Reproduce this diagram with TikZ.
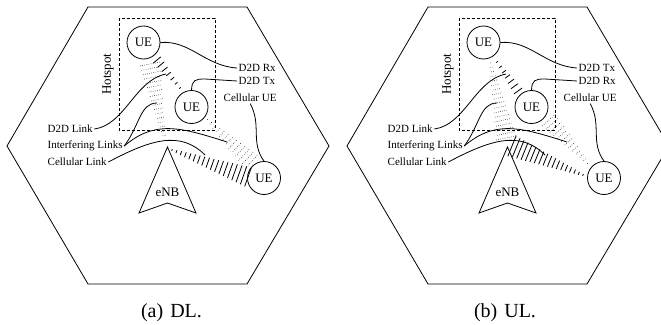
\documentclass[tikz,border=0pt]{standalone}
\usepackage{fontspec}
\setmainfont{Liberation Serif}
\usetikzlibrary{calc}

% beam: from #1 (narrow end) to #2 (wide end), #3 steps, half length #4 -> #5, style #6
\newcommand\drawbeam[6]{%
  \coordinate (bmfar) at ($(#1)!2!(#2)$);
  \foreach \k in {0,...,#3}{%
    \pgfmathsetmacro\bmT{\k/#3}%
    \pgfmathsetmacro\bmH{#4+(#5-#4)*\k/#3}%
    \coordinate (bmp) at ($(#1)!\bmT!(#2)$);
    \draw[#6] ($(bmp)!\bmH pt!90:(bmfar)$) -- ($(bmp)!\bmH pt!-90:(bmfar)$);
  }}

\newcommand\drawpanel[3]{%
  \draw[hexline] (88,7) -- (247,7) -- (329,146) -- (247,284) -- (88,284) -- (7,146) -- cycle;
  \draw[hotline] (119,18) rectangle (215,130);
  \node[hotlbl] (#1hot) at (108,74) {Hotspot};
  \node[uenode] (#1ue1) at (143.5,42.5) {UE};
  \node[uenode] (#1ue2) at (191.5,107) {UE};
  \node[uenode] (#1ue3) at (264,178) {UE};
  \coordinate (#1apex) at (167.5,147);
  \coordinate (#1br) at (196,213);
  \coordinate (#1notch) at (167.5,203);
  \coordinate (#1bl) at (139,213);
  \draw[hexline] (#1apex) -- (#1br) -- (#1notch) -- (#1bl) -- cycle;
  \node[enbl] (#1enb) at (167.5,192) {eNB};
  \node[lbl] (#1rx) at (237,68) {#2};
  \node[lbl] (#1tx) at (237,81) {#3};
  \node[lbl] (#1cu) at (222,98) {Cellular UE};
  \node[lbl] (#1dl) at (46,129) {D2D Link};
  \node[lbl] (#1il) at (46,146) {Interfering Links};
  \node[lbl] (#1cl) at (46,162) {Cellular Link};
  \coordinate (#1p1) at (166,74);
  \coordinate (#1p2) at (157,103);
  \coordinate (#1p3) at (227,142);
  \coordinate (#1p4) at (205,155);
  \draw[ldr] (#1ue1.east) .. controls (190,40) and (205,66) .. (#1rx.west);
  \draw[ldr] (#1ue2.north) .. controls (192,80) and (195,79) .. (205,79) -- (#1tx.west);
  \draw[ldr] (#1cu.south) .. controls (262,125) and (250,142) .. (#1ue3.north);
  \draw[ldr] (#1dl.east) .. controls (125,125) and (135,80) .. (#1p1);
  \draw[ldr] (#1il.east) .. controls (140,125) and (140,103) .. (#1p2);
  \draw[ldr] (#1il.east) .. controls (155,120) and (180,127) .. (#1p3);
  \draw[ldr] (#1cl.east) .. controls (150,140) and (180,130) .. (#1p4);
}

\begin{document}
\begin{tikzpicture}[x=1pt,y=-1pt,
  hexline/.style={line width=0.8pt, line join=miter},
  hotline/.style={line width=0.8pt, dash pattern=on 3pt off 2pt},
  uenode/.style={circle, draw, line width=0.8pt, minimum size=33pt, inner sep=0pt,
    font=\fontsize{13}{15}\selectfont},
  hotlbl/.style={rotate=90, inner sep=0pt, font=\fontsize{13}{15}\selectfont},
  enbl/.style={inner sep=0pt, font=\fontsize{13}{15}\selectfont},
  lbl/.style={anchor=west, inner sep=1.5pt, font=\fontsize{11}{13}\selectfont},
  ldr/.style={line width=0.8pt},
  hatchline/.style={line width=0.8pt},
  dotline/.style={line width=0.55pt, dash pattern=on 0.55pt off 1.6pt},
  captext/.style={anchor=base, inner sep=0pt, font=\fontsize{20}{24}\selectfont}]
\useasboundingbox (0,0) rectangle (661,324);
\clip (0,0) rectangle (661,324);

% ---------------- (a) DL ----------------
\begin{scope}
  \coordinate (aca) at (172,150);  \coordinate (acb) at (248,177);
  \drawbeam{aca}{acb}{17}{1}{10}{hatchline}
  \coordinate (ada) at (180,88);   \coordinate (adb) at (157,60);
  \drawbeam{ada}{adb}{6}{1}{5}{hatchline}
  \coordinate (aia) at (165,140);  \coordinate (aib) at (150,64);
  \drawbeam{aia}{aib}{17}{1}{10}{dotline}
  \coordinate (aja) at (207,120);  \coordinate (ajb) at (251,162);
  \drawbeam{aja}{ajb}{12}{1}{9}{dotline}
  \drawpanel{a}{D2D Rx}{D2D Tx}
\end{scope}

% ---------------- (b) UL ----------------
\begin{scope}[xshift=340pt]
  \coordinate (bca) at (243,175);  \coordinate (bcb) at (172,146);
  \drawbeam{bca}{bcb}{17}{1}{11}{hatchline}
  \coordinate (bda) at (157,62);   \coordinate (bdb) at (178,91);
  \drawbeam{bda}{bdb}{6}{1}{5}{hatchline}
  \coordinate (bia) at (150,63);   \coordinate (bib) at (166,138);
  \drawbeam{bia}{bib}{17}{1}{10}{dotline}
  \coordinate (bja) at (248,163);  \coordinate (bjb) at (209,120);
  \drawbeam{bja}{bjb}{12}{1}{9}{dotline}
  \drawpanel{b}{D2D Tx}{D2D Rx}
\end{scope}

\node[captext] (capa) at (171.5,317) {(a)\hspace{7pt}DL.};
\node[captext] (capb) at (505,317) {(b)\hspace{7pt}UL.};
\end{tikzpicture}
\end{document}
